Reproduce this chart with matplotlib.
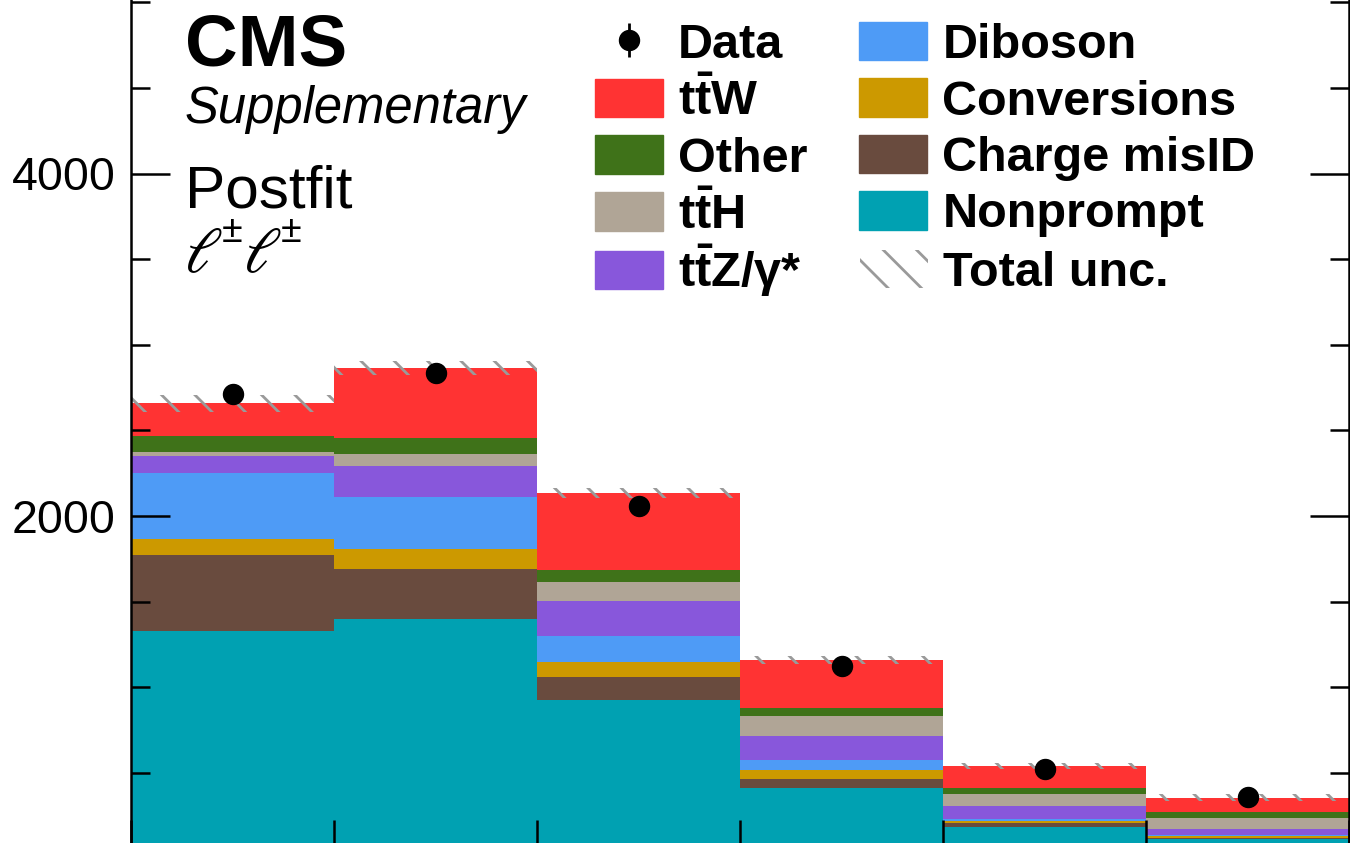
#!/usr/bin/env python3
"""Postfit same-sign dilepton yields, CMS style stacked histogram."""

import numpy as np
import matplotlib
matplotlib.use("Agg")
import matplotlib.pyplot as plt
import matplotlib.patches as mpatches
from matplotlib.ticker import MultipleLocator, NullFormatter, FuncFormatter
from matplotlib.legend_handler import HandlerErrorbar

plt.rcParams["font.family"] = ["Liberation Sans", "DejaVu Sans"]
plt.rcParams["mathtext.fontset"] = "custom"
plt.rcParams["mathtext.rm"] = "Liberation Sans"
plt.rcParams["mathtext.bf"] = "Liberation Sans:bold"
plt.rcParams["mathtext.it"] = "Liberation Sans:italic"
plt.rcParams["hatch.linewidth"] = 2.0
plt.rcParams["hatch.color"] = "#9a9a9a"

# -- data ---------------------------------------------------------------------
bin_edges = [0, 1, 2, 3, 4, 5, 6]

# stack order: bottom -> top
nonprompt = [1328, 1398, 926, 413, 182, 112]
charge_misid = [444, 291, 134, 51, 23, 10]
conversions = [92, 116, 89, 53, 14, 7]
diboson = [387, 308, 150, 60, 12, 8]
ttz = [99, 179, 205, 140, 76, 35]
tth = [24, 70, 113, 115, 70, 63]
other = [93, 93, 70, 49, 35, 38]
ttw = [191, 411, 446, 278, 130, 82]

data = [2711, 2837, 2058, 1124, 524, 357]
total_unc = [50, 41, 30, 24, 17, 20]

# -- colours ------------------------------------------------------------------
c_nonprompt = "#00a1b2"
c_chargemis = "#694b3e"
c_conv = "#cc9900"
c_diboson = "#4e9bf6"
c_ttz = "#8857db"
c_tth = "#b0a596"
c_other = "#3f7219"
c_ttw = "#ff3333"
c_unc = "#9a9a9a"

stack = [
    (nonprompt, c_nonprompt),
    (charge_misid, c_chargemis),
    (conversions, c_conv),
    (diboson, c_diboson),
    (ttz, c_ttz),
    (tth, c_tth),
    (other, c_other),
    (ttw, c_ttw),
]

# -- figure -------------------------------------------------------------------
W, H = 1350, 843
fig = plt.figure(figsize=(W / 100, H / 100), dpi=100)
ymax = 5500
px_per_unit = 0.17125
ax_h = ymax * px_per_unit
# axes run past the bottom/top of the canvas (cropped view)
ax = fig.add_axes([131 / W, (H - 858.5) / H, 1218 / W, ax_h / H])

edges = np.array(bin_edges, dtype=float)
bottom = np.zeros(len(data))
for vals, col in stack:
    top = bottom + np.array(vals, dtype=float)
    ax.stairs(top, edges, baseline=bottom, fill=True, color=col,
              linewidth=0)
    bottom = top
total = bottom

unc = np.array(total_unc, dtype=float)
ax.stairs(total + unc, edges, baseline=total - unc, fill=True,
          facecolor="none", edgecolor=c_unc, hatch="\\", linewidth=0)

centers = 0.5 * (edges[:-1] + edges[1:])
data_arr = np.array(data, dtype=float)
ax.errorbar(centers, data_arr, yerr=np.sqrt(data_arr), fmt="o",
            color="black", markersize=14.4, elinewidth=2, capsize=0,
            zorder=5)

ax.set_xlim(edges[0], edges[-1])
ax.set_ylim(0, ymax)

ax.xaxis.set_major_locator(MultipleLocator(1))
ax.xaxis.set_major_formatter(NullFormatter())
ax.yaxis.set_major_locator(MultipleLocator(2000))
ax.yaxis.set_minor_locator(MultipleLocator(500))
ax.yaxis.set_major_formatter(
    FuncFormatter(lambda v, p: "" if v <= 0 else f"{v:.0f}"))
ax.tick_params(which="both", direction="in", right=True, top=True,
               width=1.8, labelsize=33.5, pad=11)
ax.tick_params(which="major", length=28)
ax.tick_params(which="minor", length=14)
for sp in ax.spines.values():
    sp.set_linewidth(1.8)

# -- labels -------------------------------------------------------------------
fig.text(185 / W, 1 - 65 / H, "CMS", fontsize=52.5, fontweight="bold",
         va="baseline", ha="left")
fig.text(185 / W, 1 - 123 / H, "Supplementary", fontsize=36.5,
         fontstyle="italic", va="baseline", ha="left")
fig.text(185 / W, 1 - 207 / H, "Postfit", fontsize=43.5,
         va="baseline", ha="left")
# channel label: two leptons, each with a small +- superscript
for x0 in (184, 243):
    fig.text(x0 / W, 1 - 272 / H, r"$\ell$", fontsize=46,
             va="baseline", ha="left", math_fontfamily="stix")
    fig.text((x0 + 38) / W, 1 - 242 / H, "\u00b1", fontsize=27,
             va="baseline", ha="left")

# -- legend -------------------------------------------------------------------
leg_kw = dict(loc="upper left", frameon=False,
              prop={"size": 35, "weight": "bold"}, borderpad=0,
              borderaxespad=0, handlelength=1.4, handleheight=0.84,
              handletextpad=0.31)

data_handle = ax.errorbar([], [], yerr=[], fmt="o", color="black",
                          markersize=14.4, elinewidth=2)
main_handles = [
    data_handle,
    mpatches.Patch(color=c_ttw),
    mpatches.Patch(color=c_other),
    mpatches.Patch(color=c_tth),
    mpatches.Patch(color=c_diboson),
    mpatches.Patch(color=c_conv),
    mpatches.Patch(color=c_chargemis),
    mpatches.Patch(color=c_nonprompt),
]
main_labels = [
    "Data",
    r"$\mathbf{t\bar{t}}$W",
    "Other",
    r"$\mathbf{t\bar{t}}$H",
    "Diboson",
    "Conversions",
    "Charge misID",
    "Nonprompt",
]
fig.legend(main_handles, main_labels, ncol=2,
           bbox_to_anchor=(595 / W, 1 - 22 / H),
           labelspacing=0.214, columnspacing=1.06,
           handler_map={type(data_handle): HandlerErrorbar(yerr_size=0.35)},
           **leg_kw)

# last row: separate legends so the tall ttZ label keeps the row pitch
fig.legend([mpatches.Patch(color=c_ttz)], [r"$\mathbf{t\bar{t}}$Z/γ*"],
           bbox_to_anchor=(595 / W, 1 - 242 / H), **leg_kw)
fig.legend([mpatches.Patch(facecolor="none", edgecolor=c_unc, hatch="\\",
                           linewidth=0)], ["Total unc."],
           bbox_to_anchor=(860 / W, 1 - 250 / H), **leg_kw)

fig.savefig("out.png", dpi=100)
plt.close(fig)
